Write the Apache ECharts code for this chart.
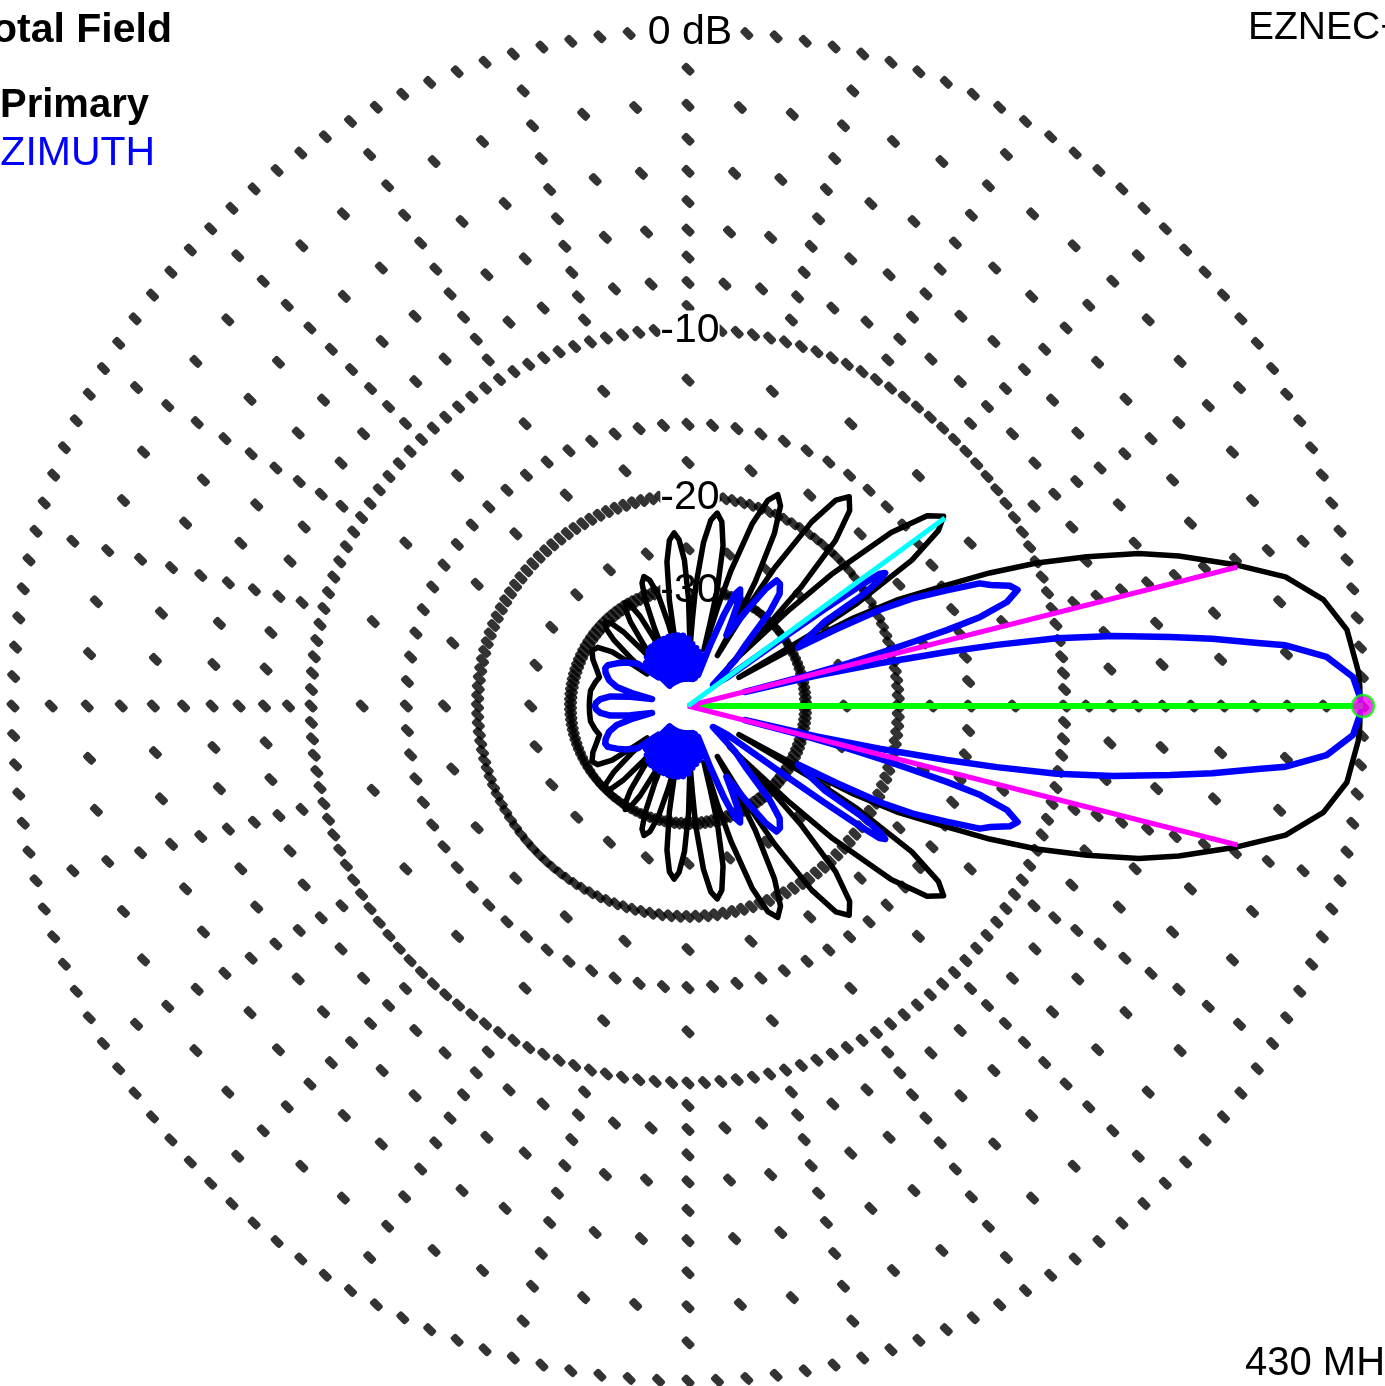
<!DOCTYPE html>
<html><head><meta charset="utf-8">
<script src="https://cdn.jsdelivr.net/npm/echarts@6/dist/echarts.min.js"></script>
<style>html,body{margin:0;padding:0;background:#fff;overflow:hidden}#c{width:1385px;height:1386px}</style>
</head><body><div id="c"></div>
<script>
// ---------- grid definition (dB levels, ARRL log scale) ----------
const ringLevels = [0, -10, -20, -30];
const ringLabels = ['0 dB', '-10', '-20', '-30'];
const majorSpokeLevels = [-1, -2, -3, -4, -5, -6, -7, -8, -9, -12.5, -15, -17.5, -25];
const minorSpokeLevels = [-2, -4, -6, -8, -15];
const majorSpokeStep = 15;
const minorSpokeStep = 5;
const ringDotStep = 2.5;

// ---------- Total Field, Primary (black), upper half 0..180 deg ----------
const blackAng = [0,3,6.6,9.5,12.2,14.4,17,18.7,20.5,22.3,23.8,25.3,26.9,28,28.8,29.3,
  30.25,31.2,33.1,35,36.6,38.5,40.5,42.5,43.5,44.5,
  45.45,46.4,48.3,50.4,52.4,54.3,56.1,57.9,58.85,59.8,
  60.7,61.6,63.4,65.2,67,68.8,70.6,72.4,73.3,74.2,
  75.1,75.9,77.65,79.6,81.4,83,84.6,86.3,87.1,88,
  88.9,89.7,91.4,93.1,94.6,96.4,98.3,100,100.8,101.7,
  102.5,103.4,105,106.9,108.8,110.5,111.9,113.3,114.2,115,
  115.8,116.6,118.1,119.7,121.25,122.8,124.4,125.9,126.7,127.5,
  128.4,129.3,131.1,132.9,134.75,136.6,138.4,140.2,141.1,142,
  143,144.5,147,150,154,158,162,166,171,176,180];
const blackDb = [0,-0.1,-0.3,-0.8,-1.7,-3,-4.7,-6,-7.9,-10,-12.3,-15.2,-18.2,-22,-30,-42,
  -26.9,-21.2,-15.9,-13.6,-12.9,-13.6,-15.9,-21.2,-26.9,-42,
  -30.1,-24.4,-19.1,-16.8,-16.1,-16.8,-19.1,-24.4,-30.1,-42,
  -32.5,-26.8,-21.5,-19.2,-18.5,-19.2,-21.5,-26.8,-32.5,-42,
  -35.3,-29.6,-24.3,-22,-21.3,-22,-24.3,-29.6,-35.3,-42,
  -37.3,-31.6,-26.3,-24,-23.3,-24,-26.3,-31.6,-37.3,-42,
  -41,-35.7,-30.4,-28.1,-27.4,-28.1,-30.4,-35.7,-41,-44,
  -42,-37.8,-32.5,-30.2,-29.5,-30.2,-32.5,-37.8,-42,-44,
  -42,-38.3,-33,-30.7,-30,-30.7,-33,-38.3,-42,-44,
  -40,-34,-31.5,-31,-31.8,-33,-34,-33.5,-33,-33,-33];

// ---------- AZIMUTH overlay (blue), upper half 0..180 deg ----------
const blueAng = [0,2.5,4.4,5.8,6.3,7.3,8.15,9.35,10.4,11.2,11.8,12.6,13.3,13.9,
  14.4,14.9,15.4,15.9,16.35,16.95,18.06,19.4,20.5,21.8,22.8,24.1,25.6,26.6,27.4,28,
  29.5,31.7,32.4,33.3,34,34.6,35,35.3,35.6,36,
  40,44,46.9,49,50.8,53,54.8,56.5,58.4,60,61.5,63,64.5,65.9,67.2,68.5,70,72,
  74,76,78,80,82,84,86,88,90,92,94,96,98,100,102,104,106,108,110,112,114,116,118,120,122,124,126,128,130,132,134,136,
  140,145,149,153,155.5,158,162,165,167,169,171,173,175.5,178,180];
const blueDb = [0,-0.24,-0.9,-2,-2.8,-4.2,-5.6,-7.7,-10.1,-13.1,-16.1,-21.2,-28,-42,
  -30,-24,-20.9,-18.2,-15.7,-13.6,-12,-11.3,-11.6,-12.5,-13,-14.9,-17.1,-19.6,-24,-29,
  -27.5,-24.6,-20.5,-18.5,-17.9,-18.3,-20.5,-24,-30,-45,
  -52,-40,-35.4,-29,-26.4,-25.5,-25.4,-27,-30.7,-34,-36.5,-33,-29.5,-28.6,-29.5,-33,-40,-52,
  -44,-54,-43,-55,-42,-55,-41,-55,-39.5,-55,-38.8,-55,-38.6,-55,-38.5,-55,-38.5,-55,-38.6,-55,-38.7,-55,-38.8,-55,-39,-55,-39.5,-55,-40.5,-55,-41.5,-48,
  -40,-37.5,-36,-34.6,-34.4,-34.8,-36,-38,-42,-50,-42,-37,-35,-34.2,-34];

// ---------- marker lines ----------
const peakAng = 0, peakDb = 0;
const beamAng = 14.2, beamDb = -3;
const sideAng = 36.2, sideDb = -12.9;

// ---------- texts ----------
const titleText = 'Total Field';
const traceText = 'Primary';
const overlayText = 'AZIMUTH';
const progText = 'EZNEC+';
const freqText = '430 MHz';

// ARRL log scale: radius fraction for a dB value
function rr(db) { return Math.pow(0.89, -db / 2); }

function mirrored(angs, dbs) {
  const pts = [];
  for (let i = 0; i < angs.length; i++) pts.push([rr(dbs[i]), angs[i]]);
  for (let i = angs.length - 2; i >= 0; i--) pts.push([rr(dbs[i]), 360 - angs[i]]);
  return pts;
}

// grid dots
const gridDots = [];
for (const lv of ringLevels) {
  for (let a = 0; a < 360; a += ringDotStep) gridDots.push([rr(lv), a]);
}
for (let a = 0; a < 360; a += minorSpokeStep) {
  const lvls = (a % majorSpokeStep === 0) ? majorSpokeLevels : minorSpokeLevels;
  for (const lv of lvls) gridDots.push([rr(lv), a]);
}

const CX = 688, CY = 706, R = 675;
const chart = echarts.init(document.getElementById('c'), null, {renderer: 'canvas'});
const FF = '"Liberation Sans", Arial, sans-serif';
const font = (w, s) => w + ' ' + s + 'px ' + FF;

const labelEls = ringLevels.map((lv, i) => ({
  type: 'text', z: 50,
  x: CX + 2, y: CY - R * rr(lv) + 2,
  style: {text: ringLabels[i], fill: '#000', font: font('normal', 41),
    align: 'center', verticalAlign: 'middle', backgroundColor: '#fff'}
}));

chart.setOption({
  animation: false,
  backgroundColor: '#fff',
  polar: {center: [CX, CY], radius: R},
  angleAxis: {type: 'value', min: 0, max: 360, startAngle: 0, clockwise: false,
    axisLine: {show: false}, axisTick: {show: false}, axisLabel: {show: false}, splitLine: {show: false}},
  radiusAxis: {type: 'value', min: 0, max: 1,
    axisLine: {show: false}, axisTick: {show: false}, axisLabel: {show: false}, splitLine: {show: false}},
  graphic: labelEls.concat([
    {type: 'text', z: 50, x: -30, y: 31, style: {text: titleText, fill: '#000', font: font('bold', 41), verticalAlign: 'middle'}},
    {type: 'text', z: 50, x: 0, y: 106, style: {text: traceText, fill: '#000', font: font('bold', 40), verticalAlign: 'middle'}},
    {type: 'text', z: 50, x: -27, y: 154, style: {text: overlayText, fill: '#0000ff', font: font('normal', 41), verticalAlign: 'middle'}},
    {type: 'text', z: 50, x: 1248, y: 28, style: {text: progText, fill: '#000', font: font('normal', 39), verticalAlign: 'middle'}},
    {type: 'text', z: 50, x: 1245, y: 1364, style: {text: freqText, fill: '#000', font: font('normal', 40), verticalAlign: 'middle'}}
  ]),
  series: [
    {type: 'scatter', coordinateSystem: 'polar', z: 1, silent: true,
      symbol: 'roundRect', symbolSize: [13, 8], symbolRotate: -45,
      itemStyle: {color: '#000'}, data: gridDots},
    {type: 'line', coordinateSystem: 'polar', z: 60, symbol: 'none', smooth: false,
      lineStyle: {color: '#000', width: 5.5, join: 'round'}, data: mirrored(blackAng, blackDb)},
    {type: 'line', coordinateSystem: 'polar', z: 61, symbol: 'none', smooth: false,
      lineStyle: {color: '#0000ff', width: 6.5, join: 'round'}, data: mirrored(blueAng, blueDb)},
    {type: 'line', coordinateSystem: 'polar', z: 62, symbol: 'none',
      lineStyle: {color: '#00ff00', width: 6}, data: [[0, peakAng], [rr(peakDb), peakAng]]},
    {type: 'line', coordinateSystem: 'polar', z: 63, symbol: 'none',
      lineStyle: {color: '#ff00ff', width: 5}, data: [[rr(beamDb), beamAng], [0, 0], [rr(beamDb), 360 - beamAng]]},
    {type: 'line', coordinateSystem: 'polar', z: 64, symbol: 'none',
      lineStyle: {color: '#00ffff', width: 5}, data: [[0, sideAng], [rr(sideDb), sideAng]]},
    {type: 'scatter', coordinateSystem: 'polar', z: 65, symbol: 'circle', symbolSize: 22,
      itemStyle: {color: '#ff00ff', borderColor: '#00ff00', borderWidth: 2.5},
      data: [[rr(peakDb), peakAng]]}
  ]
});
</script></body></html>
